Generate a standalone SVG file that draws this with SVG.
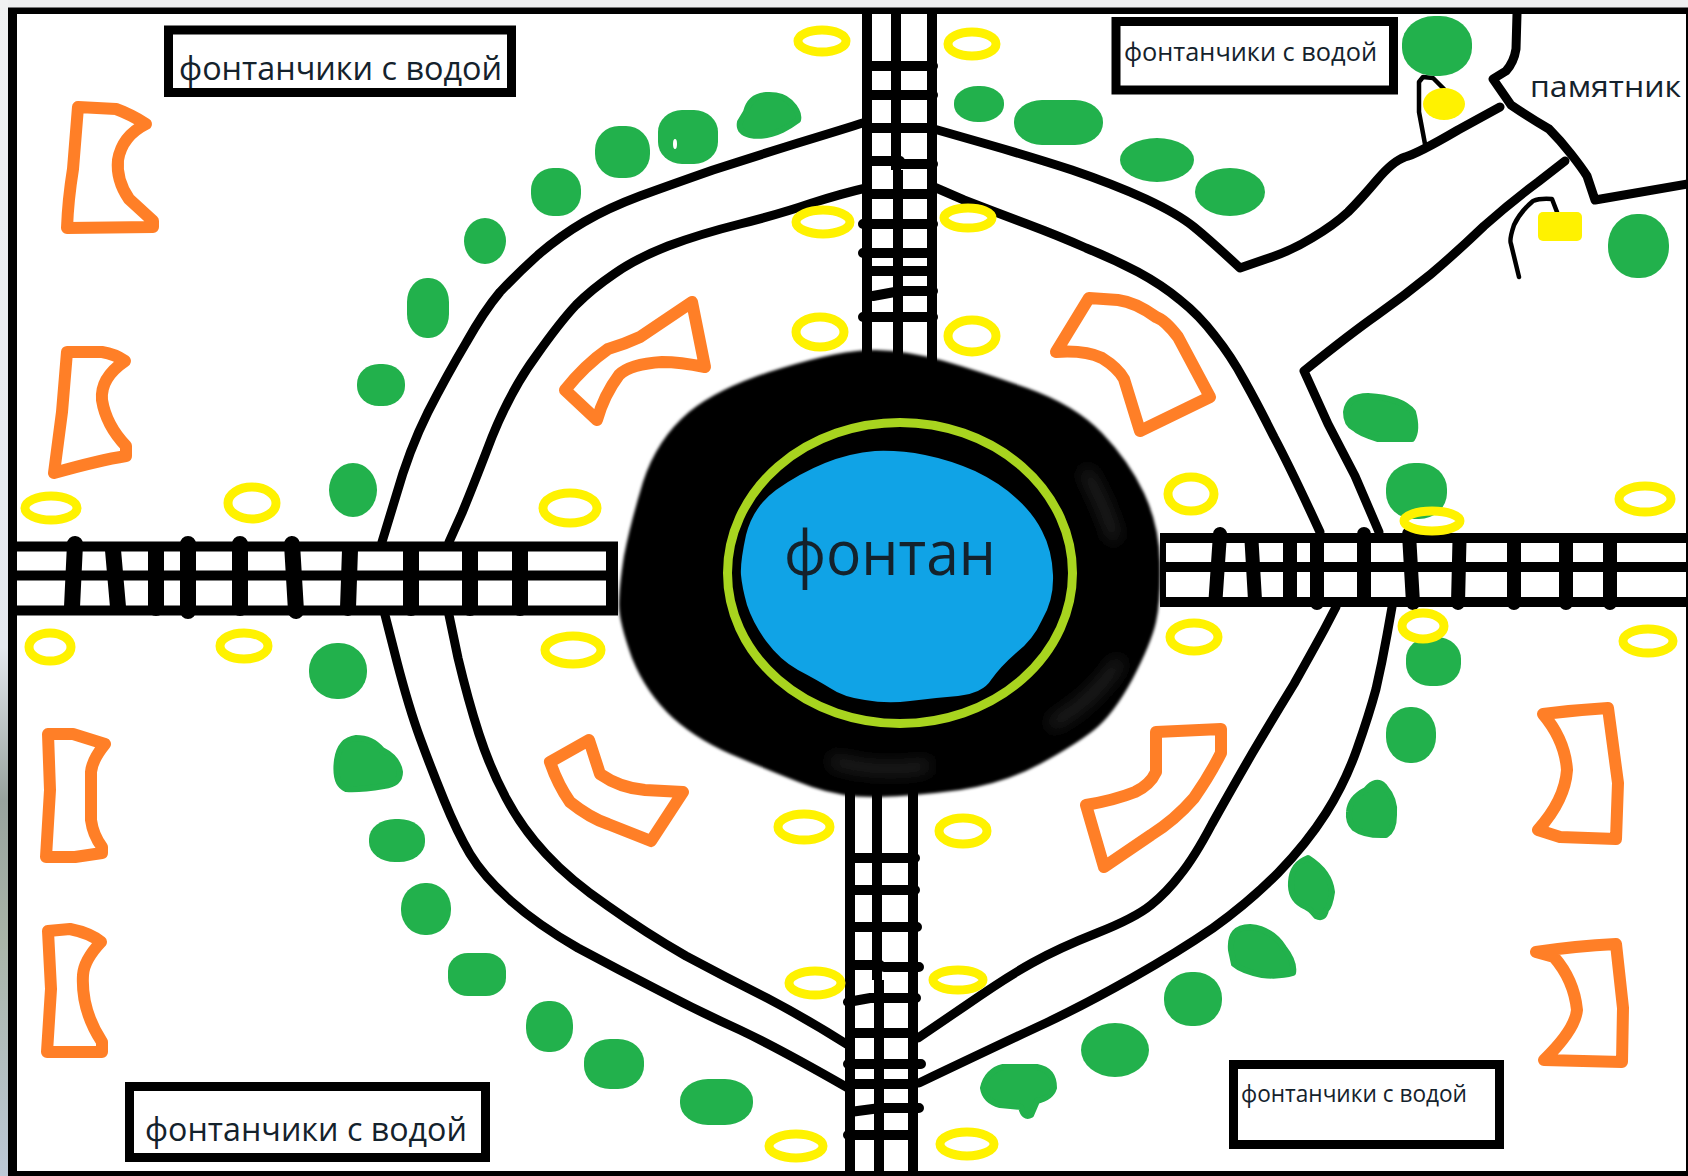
<svg xmlns="http://www.w3.org/2000/svg" width="1688" height="1176" viewBox="0 0 1688 1176">
<defs>
<linearGradient id="strip" x1="0" y1="0" x2="0" y2="1">
<stop offset="0" stop-color="#f0f1f2"/><stop offset="0.55" stop-color="#e4e8ee"/><stop offset="0.68" stop-color="#98a39e"/><stop offset="0.8" stop-color="#a9b5a8"/><stop offset="1" stop-color="#bcc8d6"/>
</linearGradient>
<filter id="soft" x="-5%" y="-5%" width="110%" height="110%"><feGaussianBlur stdDeviation="1.6"/></filter>
<filter id="haze" x="-30%" y="-30%" width="160%" height="160%"><feGaussianBlur stdDeviation="8"/></filter>
</defs>
<style>
.wall{fill:none;stroke:#000;stroke-width:9;stroke-linejoin:round;stroke-linecap:round}
.thin{fill:none;stroke:#000;stroke-width:4.500;stroke-linejoin:round;stroke-linecap:round}
.rail{fill:none;stroke:#000;stroke-width:10}
.tieL{fill:none;stroke:#000;stroke-width:16;stroke-linecap:round}
.tieR{fill:none;stroke:#000;stroke-width:14;stroke-linecap:round}
.tieV{fill:none;stroke:#000;stroke-width:10;stroke-linecap:round}
.bench{fill:none;stroke:#ff7f27;stroke-width:12;stroke-linejoin:round}
.tree{fill:#22b14c}
path.tree{stroke:#22b14c;stroke-width:6;stroke-linejoin:round}
.lamp{fill:none;stroke:#fff200;stroke-width:9}
.box{fill:#fff;stroke:#000;stroke-width:9}
text{font-family:"Open Sans","Noto Sans","Liberation Sans",sans-serif;fill:#14222c}
</style>
<rect width="1688" height="1176" fill="#eeeff0"/>
<rect x="0" y="0" width="8" height="1176" fill="url(#strip)"/>
<rect x="8" y="7.500" width="1680" height="1168.500" fill="#000"/>
<rect x="17" y="14" width="1669" height="1157" fill="#fff"/>

<g id="walls">
<path class="wall" d="M382 542L396 496Q409 450 428 412Q447 375 466 343Q484 311 500 292Q517 274 538 255Q560 236 584 222Q608 208 640 196Q673 184 713 170Q753 157 798 143Q844 129 866 122"/>
<path class="wall" d="M449 542L462 513Q474 484 492 437Q511 390 536 356Q560 322 576 305Q592 289 614 274Q635 259 668 246Q700 234 740 224Q780 214 812 203Q844 193 866 188"/>
<path class="wall" d="M934 129L983 143Q1032 157 1072 170Q1113 184 1146 199Q1178 214 1194 227Q1210 240 1240 268L1266 259Q1291 251 1312 238Q1334 225 1348 212Q1361 199 1377 180Q1393 161 1405 157Q1417 154 1458 130L1500 107"/>
<path class="wall" d="M934 187L964 200Q995 212 1027 224Q1059 236 1086 248Q1113 259 1138 272Q1162 285 1180 300Q1199 315 1215 336Q1231 356 1244 380Q1258 405 1274 437Q1291 469 1320 532"/>
<path class="wall" d="M1565 161L1538 182Q1511 202 1484 226Q1458 251 1431 274Q1404 296 1377 315Q1350 334 1304 371L1328 424L1355 476L1379 532"/>
<path class="wall" d="M1517 14L1516 49Q1514 62 1506 71L1493 79L1511 105Q1530 118 1549 129Q1560 140 1571 154Q1582 168 1587 176L1595 200L1688 184"/>
<path class="wall" d="M385 615L397 662Q409 708 420 738Q431 768 444 800Q457 832 470 854Q484 877 511 901Q538 925 578 948Q619 970 660 991Q700 1012 740 1030Q780 1049 848 1088"/>
<path class="wall" d="M449 615L458 658Q468 700 479 734Q490 768 506 798Q522 828 546 854Q570 880 608 906Q646 933 686 956Q727 978 767 998Q807 1019 848 1045"/>
<path class="wall" d="M1336 607L1324 630Q1312 652 1294 684Q1275 715 1253 752Q1231 790 1212 824Q1194 858 1180 875Q1167 892 1151 905Q1135 918 1097 933Q1059 948 1032 963Q1005 978 965 1006L918 1038"/>
<path class="wall" d="M1392 607L1387 635Q1382 663 1376 689Q1369 715 1357 749Q1345 783 1326 813Q1307 843 1278 873Q1248 903 1213 928Q1178 952 1132 978Q1086 1004 1046 1023Q1005 1042 919 1083"/>
<path class="thin" d="M1425 144L1419 112L1419 82L1423 77L1433 78L1444 89"/>
<path class="thin" d="M1557 212L1552 199Q1540 198 1533 201Q1520 212 1514 225Q1509 240 1511 244L1519 277"/>
</g>

<g id="trees">
<path class="tree" d="M746 112Q750 96 766 95Q782 94 790 102Q800 112 798 120Q790 126 782 130Q765 138 750 135Q738 132 740 122Z"/>
<rect class="tree" x="658" y="110" width="60" height="54" rx="24" ry="22"/>
<ellipse cx="675" cy="144" rx="2" ry="5" fill="#fff"/>
<rect class="tree" x="595" y="126" width="55" height="52" rx="24" ry="24"/>
<rect class="tree" x="531" y="168" width="50" height="48" rx="22" ry="22"/>
<ellipse class="tree" cx="485" cy="241" rx="21" ry="23"/>
<rect class="tree" x="407" y="278" width="42" height="60" rx="20" ry="24"/>
<rect class="tree" x="357" y="364" width="48" height="42" rx="22" ry="20"/>
<ellipse class="tree" cx="353" cy="490" rx="24" ry="27"/>
<rect class="tree" x="309" y="643" width="58" height="56" rx="28" ry="27"/>
<path class="tree" d="M337 760Q340 740 356 738Q372 738 382 750Q398 758 400 772Q400 784 384 786Q360 790 346 789Q334 784 337 760Z"/>
<rect class="tree" x="369" y="819" width="56" height="43" rx="26" ry="20"/>
<rect class="tree" x="401" y="883" width="50" height="52" rx="24" ry="25"/>
<rect class="tree" x="448" y="953" width="58" height="43" rx="20" ry="18"/>
<rect class="tree" x="526" y="1001" width="47" height="51" rx="22" ry="24"/>
<rect class="tree" x="584" y="1039" width="60" height="50" rx="26" ry="23"/>
<rect class="tree" x="680" y="1079" width="73" height="46" rx="28" ry="22"/>
<path class="tree" d="M1003 1067L1037 1067Q1054 1070 1054 1088Q1051 1098 1037 1101L1031 1115Q1024 1119 1021 1107L1000 1105Q985 1101 983 1088Q987 1071 1003 1067Z"/>
<ellipse class="tree" cx="1115" cy="1050" rx="34" ry="27"/>
<rect class="tree" x="1164" y="972" width="58" height="54" rx="27" ry="26"/>
<path class="tree" d="M1231 950Q1229 927 1250 927Q1272 929 1284 948Q1295 962 1293 973Q1280 977 1262 975Q1242 971 1234 964Z"/>
<path class="tree" d="M1291 882Q1292 864 1308 858Q1330 872 1332 892Q1330 906 1326 910Q1324 920 1316 916Q1310 908 1302 905Q1290 898 1291 882Z"/>
<path class="tree" d="M1349 812Q1350 798 1366 790Q1376 778 1384 786Q1396 800 1394 815Q1394 830 1386 835Q1365 836 1354 828Q1348 822 1349 812Z"/>
<rect class="tree" x="1386" y="707" width="50" height="56" rx="24" ry="26"/>
<rect class="tree" x="1406" y="637" width="55" height="49" rx="24" ry="22"/>
<rect class="tree" x="1386" y="463" width="61" height="56" rx="28" ry="26"/>
<path class="tree" d="M1346 412Q1348 396 1368 396Q1402 398 1413 412Q1418 430 1412 439L1378 439Q1360 434 1354 428Q1346 424 1346 412Z"/>
<rect class="tree" x="1608" y="214" width="61" height="64" rx="29" ry="31"/>
<rect class="tree" x="1402" y="16" width="70" height="60" rx="32" ry="28"/>
<rect class="tree" x="954" y="86" width="50" height="36" rx="24" ry="17"/>
<rect class="tree" x="1014" y="100" width="89" height="45" rx="28" ry="22"/>
<ellipse class="tree" cx="1157" cy="160" rx="37" ry="22"/>
<ellipse class="tree" cx="1230" cy="192" rx="35" ry="24"/>
</g>

<g id="benches">
<path class="bench" d="M78 107L116 109Q130 114 146 124Q122 136 118 160Q116 180 129 199L153 221L153 227L67 228Q68 200 73 169Z"/>
<path class="bench" d="M67 352L102 352Q115 354 125 361Q100 378 102 400Q106 425 126 446L126 456Q100 460 54 473L62 412Z"/>
<path class="bench" d="M692 302L705 367Q680 362 662 362Q630 364 619 375Q604 395 597 420L565 390Q585 365 608 349Q625 344 640 337Z"/>
<path class="bench" d="M1089 298L1056 352Q1085 350 1102 358Q1118 368 1124 379L1140 431L1210 397L1178 337Q1165 320 1156 317Q1135 302 1118 300Z"/>
<path class="bench" d="M589 740L550 762Q558 785 570 802Q590 818 608 824L651 841L683 792L645 790Q620 788 600 774Z"/>
<path class="bench" d="M1156 732L1221 729L1221 753Q1210 775 1194 798Q1175 820 1151 835L1104 867L1086 805Q1115 800 1135 792Q1150 785 1156 772Z"/>
<path class="bench" d="M48 734L73 734L105 744Q92 760 91 772L91 820Q93 835 102 847L102 853L75 857L46 857L50 790Z"/>
<path class="bench" d="M48 931L70 929Q90 933 101 942Q84 960 83 975Q81 1010 102 1042L102 1052L47 1052L51 989Z"/>
<path class="bench" d="M1543 714Q1575 710 1608 708L1618 783L1616 839L1560 837L1538 830Q1565 800 1567 770Q1565 740 1543 714Z"/>
<path class="bench" d="M1536 952Q1575 946 1616 944L1623 1008L1622 1062L1544 1060Q1575 1030 1577 1010Q1574 980 1554 957Z"/>
</g>

<g id="roads">
<path class="rail" d="M17 546.500H618M17 575.500H618M17 610.500H618"/>
<path class="tieL" d="M75 544L72 607M113 550L118 607M156 550V608M188 544V611M240 544V608M292 544L296 611M350 550L348 608M411 550V608M470 550V608M520 550V608"/>
<rect x="606" y="542" width="12" height="73" fill="#000"/>
<path class="rail" d="M1160 538H1688M1160 567H1688M1160 602H1688"/>
<path class="tieR" d="M1220 534L1215.500 600M1251.600 542L1255 600M1290 540V600M1317 540V603M1364 534V600M1409 534L1413 603M1459.500 540L1458 603M1514 540V603M1566 540V603M1610 540V603"/>
<rect x="1160" y="533" width="6" height="74" fill="#000"/>
<path class="rail" d="M867 8V365M896 8V170M898 170V365M932 8V365"/>
<path class="tieV" d="M868 66H933M868 95H933M868 128H930M868 161H900M900 164H933M868 194H930M863 224H933M863 253H930M868 271H930M873 296L900 291H933M863 317H933"/>
<path class="rail" d="M850 785V1176M877 785V980M879 980V1176M913 785V1176"/>
<path class="tieV" d="M850 858H915M850 890H915M850 927H917M850 965H880M884 967H919M848 1002L870 998H916M850 1033H912M848 1064H921M850 1084H912M850 1112L880 1108H919M848 1135H913"/>
</g>

<g id="fountain">
<path fill="#000" filter="url(#soft)" d="M876 350Q909 351 944 361Q979 371 1027 388Q1075 405 1102 433Q1129 461 1144 493Q1159 525 1160 562Q1161 599 1156 622Q1151 644 1132 680Q1113 715 1094 730Q1075 745 1040 764Q1005 783 960 790Q914 796 879 797Q844 798 812 787Q780 775 740 758Q700 742 673 718Q646 693 632 658Q619 622 619 605Q619 588 624 556Q630 525 643 482Q657 439 689 412Q721 386 782 368Q844 349 876 350Z"/>
<path fill="none" stroke="#2b2b2b" stroke-width="10" filter="url(#haze)" d="M1120 660Q1095 700 1050 725M1085 470Q1105 505 1115 540M930 765Q880 775 830 760"/>
<ellipse cx="900" cy="573" rx="172.500" ry="150.500" fill="none" stroke="#a8d41f" stroke-width="9"/>
<path fill="#10a3e6" d="M746 535Q753 507 776 490Q800 473 825 463Q850 453 875 451Q900 450 925 455Q950 460 975 471Q1000 483 1016 498Q1033 513 1042 531Q1052 550 1053 575Q1054 600 1042 620Q1033 640 1016 653Q1000 667 991 680Q983 693 958 696Q933 698 910 701Q887 704 865 700Q843 697 830 688Q817 680 798 670Q780 660 766 641Q753 623 747 605Q742 587 741 575Q740 563 746 535Z"/>
<text x="784" y="575" font-size="62" textLength="212" lengthAdjust="spacingAndGlyphs">фонтан</text>
</g>

<g id="lamps">
<ellipse class="lamp" cx="822" cy="41" rx="24" ry="11"/>
<ellipse class="lamp" cx="972" cy="44" rx="24" ry="12"/>
<ellipse class="lamp" cx="823" cy="222" rx="27" ry="12"/>
<ellipse class="lamp" cx="968" cy="218" rx="24" ry="10"/>
<ellipse class="lamp" cx="820" cy="332" rx="24" ry="15"/>
<ellipse class="lamp" cx="972" cy="336" rx="24" ry="16"/>
<ellipse class="lamp" cx="51" cy="508" rx="26" ry="12"/>
<ellipse class="lamp" cx="252" cy="503" rx="24" ry="16"/>
<ellipse class="lamp" cx="570" cy="508" rx="27" ry="15"/>
<ellipse class="lamp" cx="50" cy="647" rx="21" ry="14"/>
<ellipse class="lamp" cx="244" cy="646" rx="24" ry="13"/>
<ellipse class="lamp" cx="573" cy="650" rx="28" ry="14"/>
<ellipse class="lamp" cx="804" cy="827" rx="26" ry="13"/>
<ellipse class="lamp" cx="815" cy="983" rx="26" ry="12"/>
<ellipse class="lamp" cx="796" cy="1146" rx="27" ry="12"/>
<ellipse class="lamp" cx="1194" cy="637" rx="24" ry="14"/>
<ellipse class="lamp" cx="1423" cy="626" rx="21" ry="13"/>
<ellipse class="lamp" cx="1648" cy="641" rx="25" ry="12"/>
<ellipse class="lamp" cx="963" cy="831" rx="24" ry="13"/>
<ellipse class="lamp" cx="958" cy="980" rx="25" ry="10"/>
<ellipse class="lamp" cx="967" cy="1144" rx="27" ry="12"/>
<ellipse class="lamp" cx="1191" cy="494" rx="23" ry="17"/>
<ellipse class="lamp" cx="1432" cy="521" rx="28" ry="10"/>
<ellipse class="lamp" cx="1645" cy="499" rx="26" ry="13"/>
<ellipse cx="1444" cy="104" rx="21" ry="16" fill="#fff200"/>
<rect x="1538" y="212" width="44" height="29" rx="5" fill="#fff200"/>
</g>

<g id="label-top-left"><rect class="box" x="168.500" y="30" width="343" height="62.500"/><text x="179" y="80" font-size="32.500" textLength="323" lengthAdjust="spacingAndGlyphs">фонтанчики с водой</text></g>
<g id="label-top-right"><rect class="box" x="1116" y="21.500" width="277.500" height="68.500"/><text x="1124" y="61" font-size="25.500" textLength="253" lengthAdjust="spacingAndGlyphs">фонтанчики с водой</text></g>
<g id="label-bottom-left"><rect class="box" x="129.500" y="1086.500" width="356" height="71"/><text x="145" y="1141" font-size="32" textLength="322" lengthAdjust="spacingAndGlyphs">фонтанчики с водой</text></g>
<g id="label-bottom-right"><rect class="box" x="1233.500" y="1064.500" width="266" height="80"/><text x="1241" y="1102" font-size="23" textLength="226" lengthAdjust="spacingAndGlyphs">фонтанчики с водой</text></g>
<g id="label-monument"><text x="1530" y="97" font-size="29.500" textLength="151" lengthAdjust="spacingAndGlyphs">памятник</text></g>
</svg>
